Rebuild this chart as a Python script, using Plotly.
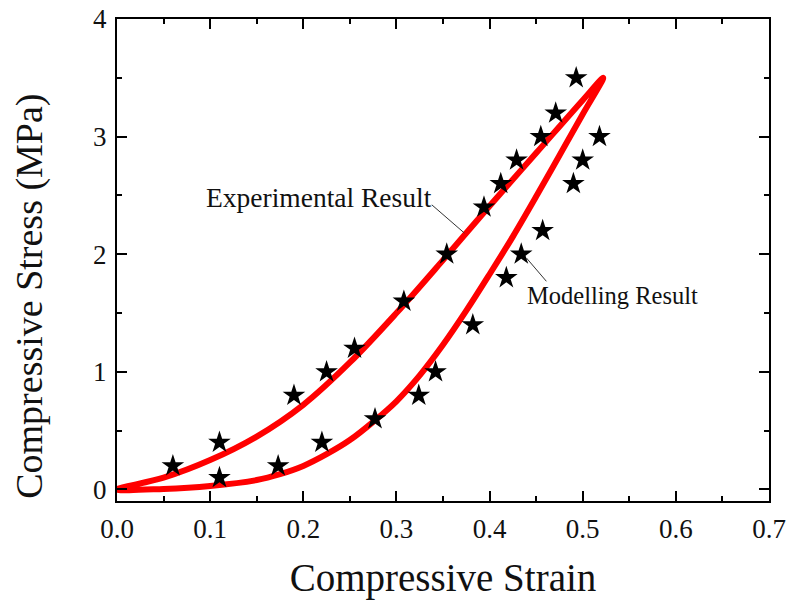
import plotly.graph_objects as go

# Experimental stress-strain loop: loading branch then unloading branch
strain_loading = [0.0, 0.05, 0.10, 0.15, 0.20, 0.25, 0.30, 0.35, 0.40, 0.45, 0.50, 0.522]
stress_loading = [0.0, 0.10, 0.25, 0.45, 0.72, 1.08, 1.50, 1.95, 2.41, 2.86, 3.31, 3.50]

strain_unloading = [0.522, 0.50, 0.475, 0.45, 0.425, 0.40, 0.375, 0.35, 0.325, 0.30,
                    0.275, 0.25, 0.225, 0.20, 0.175, 0.15, 0.10, 0.05, 0.0]
stress_unloading = [3.50, 3.19, 2.84, 2.49, 2.15, 1.83, 1.52, 1.23, 0.97, 0.75,
                    0.575, 0.42, 0.30, 0.20, 0.13, 0.08, 0.03, 0.005, 0.0]

# Modelling result points
model_strain_loading = [0.06, 0.11, 0.19, 0.225, 0.255, 0.308, 0.354, 0.394, 0.412,
                        0.429, 0.455, 0.471, 0.493]
model_stress_loading = [0.2, 0.4, 0.8, 1.0, 1.2, 1.6, 2.0, 2.4, 2.6, 2.8, 3.0, 3.2, 3.5]

model_strain_unloading = [0.518, 0.50, 0.49, 0.457, 0.434, 0.418, 0.382, 0.342, 0.324,
                          0.277, 0.22, 0.173, 0.11]
model_stress_unloading = [3.0, 2.8, 2.6, 2.2, 2.0, 1.8, 1.4, 1.0, 0.8, 0.6, 0.4, 0.2, 0.1]

x_ticks = [0.0, 0.1, 0.2, 0.3, 0.4, 0.5, 0.6, 0.7]
x_tick_labels = ["0.0", "0.1", "0.2", "0.3", "0.4", "0.5", "0.6", "0.7"]
y_ticks = [0, 1, 2, 3, 4]
y_tick_labels = ["0", "1", "2", "3", "4"]

FONT = "Liberation Serif, Times New Roman, serif"
TEXT = "#111111"

fig = go.Figure()

fig.add_trace(go.Scatter(
    x=strain_loading + strain_unloading[1:],
    y=stress_loading + stress_unloading[1:],
    mode="lines",
    line=dict(color="#ff0000", width=6, shape="spline", smoothing=1.0),
    name="Experimental Result",
    showlegend=False,
))

fig.add_trace(go.Scatter(
    x=model_strain_loading + model_strain_unloading,
    y=model_stress_loading + model_stress_unloading,
    mode="markers",
    marker=dict(symbol="star", size=17, color="black", line=dict(width=0)),
    name="Modelling Result",
    showlegend=False,
))

# Labels with thin leader lines
fig.add_annotation(x=0.217, y=2.48, text="Experimental Result", showarrow=False,
                   xanchor="center", yanchor="middle",
                   font=dict(family=FONT, size=27.5, color=TEXT))
fig.add_shape(type="line", x0=0.338, y0=2.42, x1=0.373, y1=2.18,
              line=dict(color="#333333", width=1))

fig.add_annotation(x=0.532, y=1.65, text="Modelling Result", showarrow=False,
                   xanchor="center", yanchor="middle",
                   font=dict(family=FONT, size=24.5, color=TEXT))
fig.add_shape(type="line", x0=0.4396, y0=1.968, x1=0.461, y1=1.77,
              line=dict(color="#333333", width=1))

# Y axis title, placed slightly below the axis centre
fig.add_annotation(xref="paper", yref="paper", x=-0.134, y=0.425,
                   text="Compressive Stress (MPa)", textangle=-90, showarrow=False,
                   xanchor="center", yanchor="middle",
                   font=dict(family=FONT, size=38, color=TEXT))

axis_common = dict(
    showline=True, linecolor="black", linewidth=2, mirror="ticks",
    ticks="inside", ticklen=10, tickwidth=2, tickcolor="black",
    showgrid=False, zeroline=False,
    tickfont=dict(family=FONT, size=27, color=TEXT),
)

fig.update_xaxes(
    range=[0, 0.7], tickvals=x_ticks, ticktext=x_tick_labels,
    minor=dict(ticks="inside", ticklen=5, tickwidth=2, tickcolor="black", dtick=0.05),
    title=dict(text="Compressive Strain", font=dict(family=FONT, size=39, color=TEXT),
               standoff=20),
    ticklabelstandoff=3,
    **axis_common,
)
fig.update_yaxes(
    range=[-0.098, 4.0], tickvals=y_ticks, ticktext=y_tick_labels,
    minor=dict(ticks="inside", ticklen=5, tickwidth=2, tickcolor="black", dtick=0.5),
    ticklabelstandoff=3,
    **axis_common,
)

fig.update_layout(
    width=788, height=611,
    margin=dict(l=117, r=19, t=19, b=110, autoexpand=False),
    paper_bgcolor="white", plot_bgcolor="white",
)

fig.write_html("out.html")
